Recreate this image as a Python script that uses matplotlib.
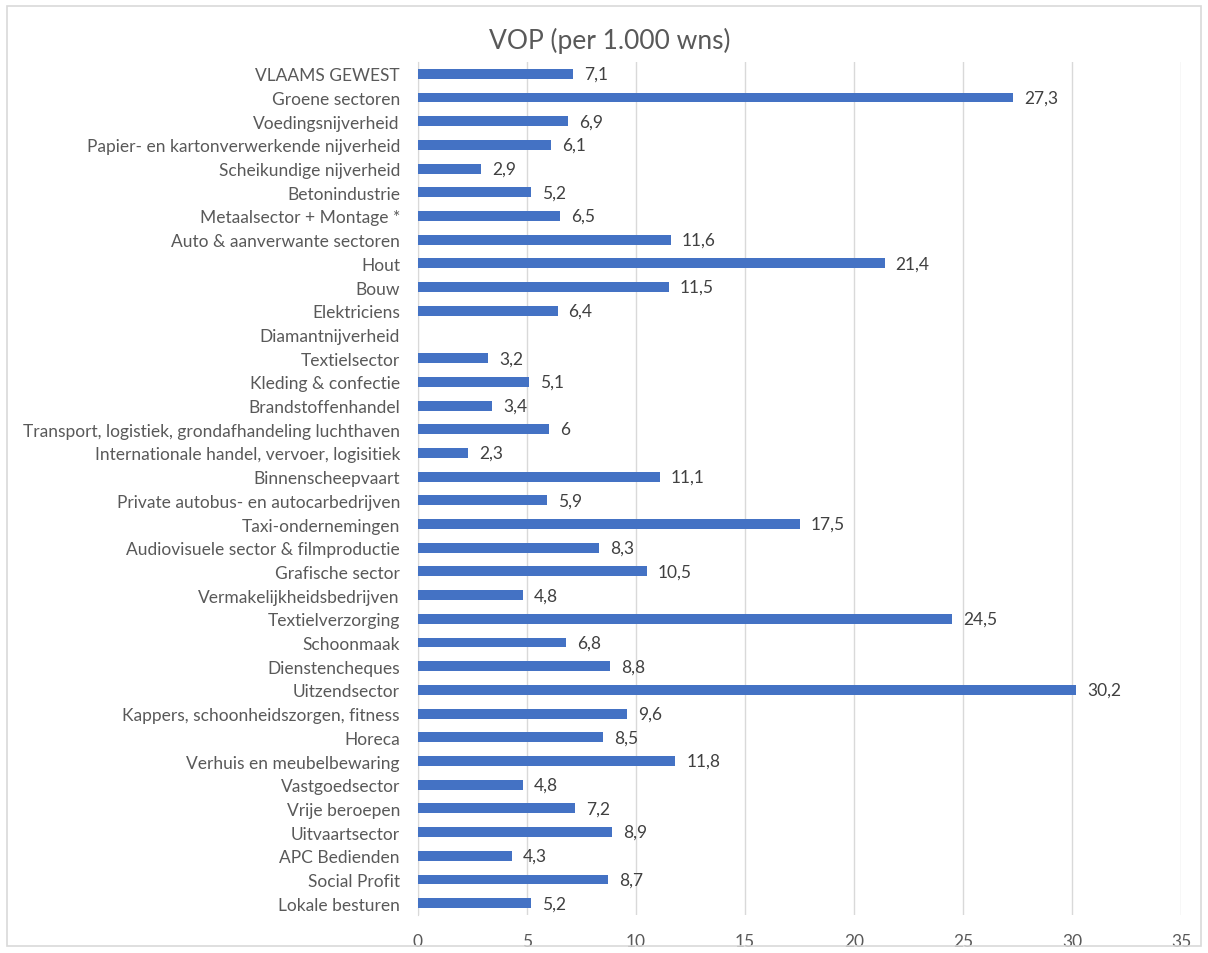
import matplotlib
matplotlib.use("Agg")
import matplotlib.pyplot as plt
from matplotlib.patches import Rectangle
import numpy as np

categories = [
    "VLAAMS GEWEST", "Groene sectoren", "Voedingsnijverheid",
    "Papier- en kartonverwerkende nijverheid", "Scheikundige nijverheid",
    "Betonindustrie", "Metaalsector + Montage *", "Auto & aanverwante sectoren",
    "Hout", "Bouw", "Elektriciens", "Diamantnijverheid", "Textielsector",
    "Kleding & confectie", "Brandstoffenhandel",
    "Transport, logistiek, grondafhandeling luchthaven",
    "Internationale handel, vervoer, logisitiek", "Binnenscheepvaart",
    "Private autobus- en autocarbedrijven", "Taxi-ondernemingen",
    "Audiovisuele sector & filmproductie", "Grafische sector",
    "Vermakelijkheidsbedrijven", "Textielverzorging", "Schoonmaak",
    "Dienstencheques", "Uitzendsector", "Kappers, schoonheidszorgen, fitness",
    "Horeca", "Verhuis en meubelbewaring", "Vastgoedsector", "Vrije beroepen",
    "Uitvaartsector", "APC Bedienden", "Social Profit", "Lokale besturen",
]
values = [7.1, 27.3, 6.9, 6.1, 2.9, 5.2, 6.5, 11.6, 21.4, 11.5, 6.4, None,
          3.2, 5.1, 3.4, 6, 2.3, 11.1, 5.9, 17.5, 8.3, 10.5, 4.8, 24.5, 6.8,
          8.8, 30.2, 9.6, 8.5, 11.8, 4.8, 7.2, 8.9, 4.3, 8.7, 5.2]
xticks = [0, 5, 10, 15, 20, 25, 30, 35]

plt.rcParams['font.family'] = ['Lato', 'DejaVu Sans']
txt = '#595959'

fig = plt.figure(figsize=(12.08, 9.54), dpi=100)
ax = fig.add_axes([0.346, 0.0398, 0.6317, 0.8942])

y = np.arange(len(categories))
vals = [v if v is not None else 0 for v in values]
ax.barh(y, vals, height=0.42, color='#4472C4', zorder=3)
for yi, v in zip(y, values):
    if v is None:
        continue
    lab = f"{v:g}".replace('.', ',')
    ax.annotate(lab, (v, yi), xytext=(8, 0), textcoords='offset points',
                va='center', ha='left', fontsize=12.5, color='#404040')

ax.set_ylim(len(categories) - 0.5, -0.5)
ax.set_xlim(0, 35)
ax.set_yticks(y)
ax.set_yticklabels(categories, fontsize=12.5, color=txt)
ax.set_xticks(xticks)
ax.set_xticklabels([str(t) for t in xticks], fontsize=12.5, color=txt)
ax.tick_params(axis='both', length=0)
ax.tick_params(axis='y', pad=13)
ax.tick_params(axis='x', pad=13)
ax.grid(axis='x', color='#D9D9D9', linewidth=1, zorder=0)
for s in ['top', 'right', 'bottom']:
    ax.spines[s].set_visible(False)
ax.spines['left'].set_color('#D9D9D9')

fig.text(0.505, 0.957, "VOP (per 1.000 wns)", ha='center', va='center',
         fontsize=19, color=txt)

fig.patches.append(Rectangle((0.006, 0.007), 0.988, 0.986, transform=fig.transFigure,
                             fill=False, edgecolor='#D9D9D9', linewidth=1.2))

fig.savefig("out.png", dpi=100)
